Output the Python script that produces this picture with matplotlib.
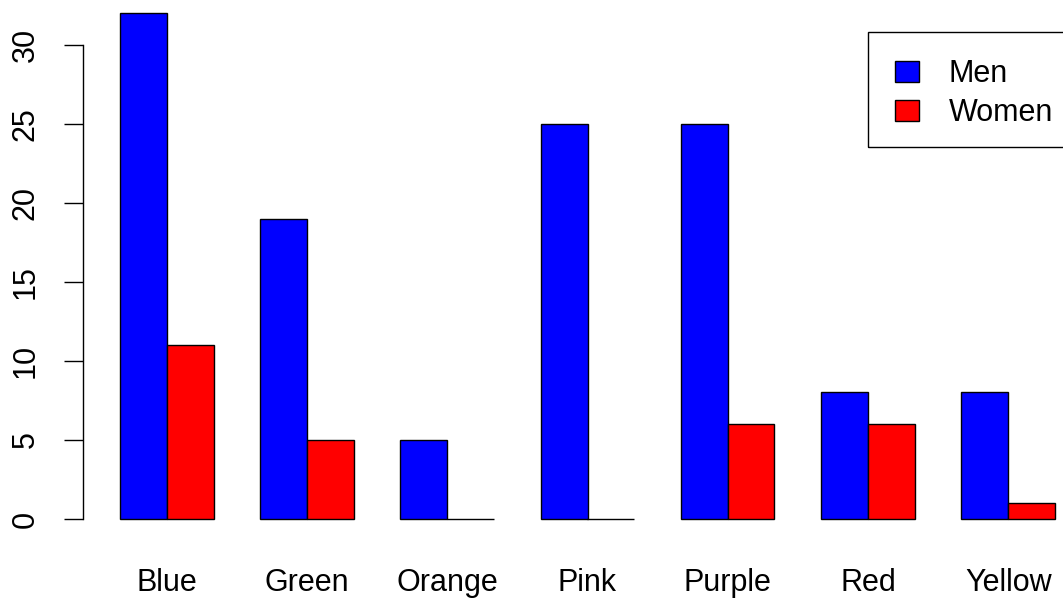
import matplotlib
matplotlib.use('Agg')
import matplotlib.pyplot as plt
from matplotlib.patches import Patch, Rectangle
import numpy as np

plt.rcParams['font.family'] = ['Liberation Sans', 'DejaVu Sans']

# favourite colour counts
colours = ['Blue', 'Green', 'Orange', 'Pink', 'Purple', 'Red', 'Yellow']
men = [32, 19, 5, 25, 25, 8, 8]
women = [11, 5, 0, 0, 6, 6, 1]
yticks = [0, 5, 10, 15, 20, 25, 30]

W, H = 1063, 601
fig = plt.figure(figsize=(W / 100, H / 100), dpi=100)
# plot region placed like R's barplot (partly off the canvas on the right/top)
ax = fig.add_axes([82.6 / W, 61.8 / H, 1009.8 / W, 546.4 / H])

# R barplot(beside=TRUE) layout: groups of 2 unit-wide bars with a 1-unit gap
idx = np.arange(len(colours))
left_men = 1 + 3 * idx
left_women = left_men + 1

ax.bar(left_men, men, width=1, align='edge', color='#0000ff',
       edgecolor='black', linewidth=1.0)
ax.bar(left_women, women, width=1, align='edge', color='#ff0000',
       edgecolor='black', linewidth=1.0)

ax.set_xlim(0.2, 21.8)
ax.set_ylim(-1.28, 33.28)

for s in ['top', 'right', 'bottom']:
    ax.spines[s].set_visible(False)
ax.spines['left'].set_bounds(0, 30)
ax.spines['left'].set_linewidth(1.0)

fs = 22

ax.set_yticks(yticks)
ax.set_yticklabels([str(v) for v in yticks], rotation=90, va='center')
ax.tick_params(axis='y', length=13.7, width=1.0, pad=16.5, labelsize=fs)

ax.set_xticks(left_women)
ax.set_xticklabels(colours)
ax.tick_params(axis='x', length=0, pad=20.5, labelsize=fs)

handles = [Patch(facecolor='#0000ff', edgecolor='black', linewidth=1.0),
           Patch(facecolor='#ff0000', edgecolor='black', linewidth=1.0)]
leg = fig.legend(handles, ['Men', 'Women'], loc='upper left',
                 bbox_to_anchor=(868 / W, 1 - 32 / H), bbox_transform=fig.transFigure,
                 borderaxespad=0, fontsize=fs, frameon=False,
                 handlelength=0.8, handleheight=0.67,
                 handletextpad=0.97, borderpad=0.88, labelspacing=0.3)

# R-style legend box (runs off the right edge like the original)
fig.patches.append(Rectangle((868 / W, 1 - 147 / H), 220 / W, 115 / H,
                             transform=fig.transFigure, fill=False,
                             edgecolor='black', linewidth=1.0))

fig.savefig('out.png', dpi=100)
